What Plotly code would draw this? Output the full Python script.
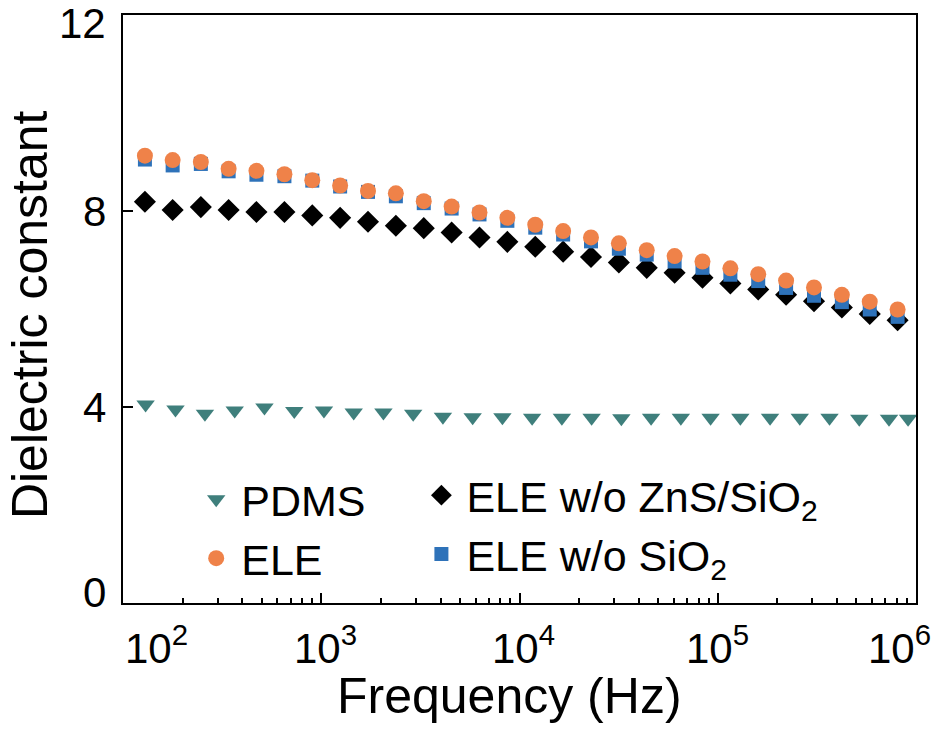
import plotly.graph_objects as go

# Frequency sweeps (Hz)
freq_ele = [129, 178, 247, 341, 471, 652, 901, 1245, 1721, 2379, 3289, 4546,
            6284, 8686, 12010, 16600, 22940, 31710, 43830, 60590, 83750,
            115800, 160000, 221200, 305800, 422700, 584300, 807600]
freq_pdms = [130, 184, 259, 366, 517, 731, 1032, 1458, 2059, 2909, 4109, 5804,
             8199, 11580, 16360, 23110, 32640, 46110, 65140, 92010, 130000,
             183600, 259300, 366300, 517400, 730900, 912000]

# Dielectric constant of each material
pdms = [4.05, 3.95, 3.86, 3.93, 3.99, 3.92, 3.93, 3.89, 3.89, 3.86, 3.80, 3.79,
        3.79, 3.78, 3.78, 3.78, 3.77, 3.78, 3.78, 3.78, 3.78, 3.78, 3.78, 3.78,
        3.76, 3.76, 3.76]
ele = [9.13, 9.04, 9.00, 8.86, 8.82, 8.75, 8.63, 8.52, 8.41, 8.36, 8.20, 8.09,
       7.97, 7.86, 7.72, 7.59, 7.46, 7.34, 7.20, 7.08, 6.97, 6.83, 6.71, 6.58,
       6.44, 6.29, 6.15, 5.99]
ele_no_sio2 = [9.05, 8.93, 8.96, 8.81, 8.74, 8.71, 8.62, 8.50, 8.39, 8.30, 8.16,
               8.05, 7.93, 7.80, 7.66, 7.52, 7.38, 7.23, 7.11, 6.97, 6.84, 6.70,
               6.57, 6.43, 6.27, 6.14, 5.99, 5.84]
ele_no_zns_sio2 = [8.19, 8.02, 8.08, 8.02, 7.98, 7.98, 7.91, 7.86, 7.78, 7.70,
                   7.65, 7.56, 7.46, 7.37, 7.27, 7.17, 7.06, 6.95, 6.84, 6.74,
                   6.64, 6.52, 6.40, 6.29, 6.16, 6.03, 5.90, 5.77]

# Axis ticks
x_tick_exp = [2, 3, 4, 5, 6]
x_label_shift = [33, 4, 4, 0, -17]
y_ticks = [0, 4, 8, 12]
y_label_shift = [11, 0, 0, -8]

FONT = "Liberation Sans, Arial, Helvetica, sans-serif"
TEAL = "#3f7f7c"
ORANGE = "#ef8249"
BLUE = "#2e72b9"

fig = go.Figure()
fig.add_trace(go.Scatter(
    x=freq_pdms, y=pdms, mode="markers", name="PDMS", legend="legend",
    marker=dict(symbol="triangle-down", size=16, color=TEAL)))
fig.add_trace(go.Scatter(
    x=freq_ele, y=ele_no_zns_sio2, mode="markers",
    name="ELE w/o ZnS/SiO<sub>2</sub>", legend="legend2",
    marker=dict(symbol="diamond", size=17, color="black")))
fig.add_trace(go.Scatter(
    x=freq_ele, y=ele_no_sio2, mode="markers",
    name="ELE w/o SiO<sub>2</sub>", legend="legend2",
    marker=dict(symbol="square", size=14, color=BLUE)))
fig.add_trace(go.Scatter(
    x=freq_ele, y=ele, mode="markers", name="ELE", legend="legend",
    marker=dict(symbol="circle", size=16, color=ORANGE)))

axis_common = dict(
    showline=True, linecolor="black", linewidth=2, mirror=True,
    ticks="inside", ticklen=10, tickwidth=2, tickcolor="black",
    showgrid=False, zeroline=False, showticklabels=False,
)

minor_vals = [m * 10 ** k for k in range(2, 6) for m in range(2, 10)]

fig.update_xaxes(
    type="log", range=[2, 6],
    tickvals=[10 ** e for e in x_tick_exp],
    minor=dict(tickmode="array", tickvals=minor_vals, ticks="inside",
               ticklen=5, tickwidth=1.5, tickcolor="black", showgrid=False),
    **axis_common)
fig.update_yaxes(range=[0, 12], tickvals=y_ticks, **axis_common)

tick_font = dict(family=FONT, size=42, color="black")
annotations = []
for e, dx in zip(x_tick_exp, x_label_shift):
    annotations.append(dict(
        x=e, y=0, xref="x", yref="paper", xanchor="center", yanchor="top",
        yshift=-13, xshift=dx, showarrow=False,
        text=f"10<sup>{e}</sup>", font=tick_font))
for v, dy in zip(y_ticks, y_label_shift):
    annotations.append(dict(
        x=0, y=v, xref="paper", yref="y", xanchor="right", yanchor="middle",
        xshift=-15, yshift=dy, showarrow=False, text=str(v), font=tick_font))
annotations.append(dict(
    x=0.488, y=-0.158, xref="paper", yref="paper", xanchor="center",
    yanchor="middle", showarrow=False, text="Frequency (Hz)",
    font=dict(family=FONT, size=50, color="black")))
annotations.append(dict(
    x=-0.117, y=0.49, xref="paper", yref="paper", xanchor="center",
    yanchor="middle", showarrow=False, text="Dielectric constant",
    textangle=-90, font=dict(family=FONT, size=50, color="black")))

legend_common = dict(
    bgcolor="rgba(0,0,0,0)", borderwidth=0, orientation="v",
    xanchor="left", yanchor="top", itemwidth=40,
    font=dict(family=FONT, size=43, color="black"), traceorder="normal",
)

fig.update_layout(
    width=947, height=731, autosize=False,
    margin=dict(l=123, r=31, t=15, b=128),
    paper_bgcolor="white", plot_bgcolor="white",
    showlegend=True,
    legend=dict(x=0.086, y=0.235, **legend_common),
    legend2=dict(x=0.370, y=0.242, **legend_common),
    annotations=annotations,
)

fig.write_html("out.html")
